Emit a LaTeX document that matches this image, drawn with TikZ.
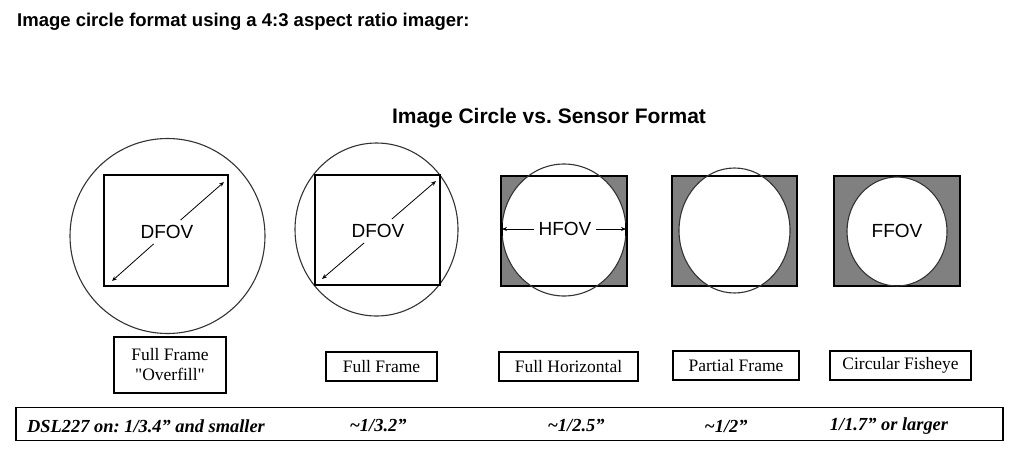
\documentclass[tikz,border=0pt]{standalone}
\usepackage{fontspec}
\setmainfont{Liberation Serif}
\setsansfont{Liberation Sans}
\newfontfamily\rawserif{Liberation Serif}[Ligatures=TeXOff]
\usetikzlibrary{arrows.meta}
\definecolor{sensgray}{RGB}{128,128,128}
\frenchspacing
\begin{document}
\frenchspacing
\begin{tikzpicture}[x=1pt,y=-1pt,
  sens/.style={draw=black,line width=1.3pt},
  circ/.style={draw=black!80,line width=1.1pt},
  lab/.style={draw=black,line width=1.1pt,font=\fontsize{17.5}{20}\selectfont,align=center,inner sep=0pt},
  fov/.style={font=\sffamily\fontsize{19}{21}\selectfont,inner sep=5pt},
  dim/.style={line width=0.8pt,-{Stealth[length=5pt,width=4pt]}},
  spec/.style={font=\bfseries\itshape\fontsize{18.4}{20}\selectfont,inner sep=0pt},
  tick/.style={line width=2pt}]
\useasboundingbox[fill=white] (0,0) rectangle (1024,466);

% titles
\node[anchor=base west,inner sep=0pt,font=\sffamily\bfseries\fontsize{18.5}{20}\selectfont] (title) at (17,26) {Image circle format using a 4:3 aspect ratio imager:};
\node[anchor=base,inner sep=0pt,font=\sffamily\bfseries\fontsize{21}{24}\selectfont] (sub) at (549,123) {Image Circle vs. Sensor Format};

% shape 1: overfill
\draw[circ] (167.5,236) ellipse [x radius=97.5,y radius=97.5];
\draw[sens] (104,175) rectangle (228,286);
\node[fov] (d1) at (167,232) {DFOV};
\coordinate (c1a) at (112,281);
\coordinate (c1b) at (224,182);
\draw[dim] (d1) -- (c1b);
\draw[dim] (d1) -- (c1a);

% shape 2: full frame
\draw[circ] (376.5,229.5) ellipse [x radius=81.5,y radius=86.5];
\draw[sens] (315,175) rectangle (440,285);
\node[fov] (d2) at (378,231) {DFOV};
\coordinate (c2a) at (322,279);
\coordinate (c2b) at (436,181);
\draw[dim] (d2) -- (c2b);
\draw[dim] (d2) -- (c2a);

% shape 3: full horizontal
\fill[sensgray] (501,176) rectangle (627,286);
\fill[white] (564,230) ellipse [x radius=62,y radius=66];
\draw[sens] (501,176) rectangle (627,286);
\draw[circ] (564,230) ellipse [x radius=62,y radius=66];
\node[fov,inner sep=4pt] (h3) at (565,229) {HFOV};
\coordinate (t3a) at (502,229);
\coordinate (t3b) at (626,229);
\draw[tick] (502,223) -- (502,236);
\draw[tick] (626,223) -- (626,236);
\draw[dim] (h3) -- (t3a);
\draw[dim] (h3) -- (t3b);

% shape 4: partial frame
\fill[sensgray] (672,176) rectangle (797,286);
\fill[white] (734.5,230.5) ellipse [x radius=55.5,y radius=62.5];
\draw[sens] (672,176) rectangle (797,286);
\draw[circ] (734.5,230.5) ellipse [x radius=55.5,y radius=62.5];

% shape 5: circular fisheye
\fill[sensgray] (834,176) rectangle (960,286);
\fill[white] (897,231.5) ellipse [x radius=50,y radius=54.5];
\draw[sens] (834,176) rectangle (960,286);
\draw[circ] (897,231.5) ellipse [x radius=50,y radius=54.5];
\node[fov] (f5) at (897,231) {FFOV};

% label boxes
\node[lab,minimum width=112pt,minimum height=56pt] (l1) at (170,365) {Full Frame\\{\rawserif "Overfill"}};
\node[lab,minimum width=111pt,minimum height=29pt] (l2) at (381.5,366.5) {Full Frame};
\node[lab,minimum width=139pt,minimum height=29pt] (l3) at (568.5,366.5) {Full Horizontal};
\node[lab,minimum width=126pt,minimum height=29pt] (l4) at (736,365.5) {Partial Frame};
\node[lab,minimum width=141pt,minimum height=29pt] (l5) at (900.5,365.5) {Circular Fisheye};

% spec row
\node[draw=black,line width=1.1pt,minimum width=987pt,minimum height=33pt,inner sep=0pt] (row) at (509.5,424) {};
\node[spec,anchor=west] (s1) at (27,426) {DSL227 on: 1/3.4” and smaller};
\node[spec] (s2) at (378,426) {\textasciitilde1/3.2”};
\node[spec] (s3) at (576,426) {\textasciitilde1/2.5”};
\node[spec] (s4) at (726,426) {\textasciitilde1/2”};
\node[spec] (s5) at (889,426) {1/1.7” or larger};
\end{tikzpicture}
\end{document}
